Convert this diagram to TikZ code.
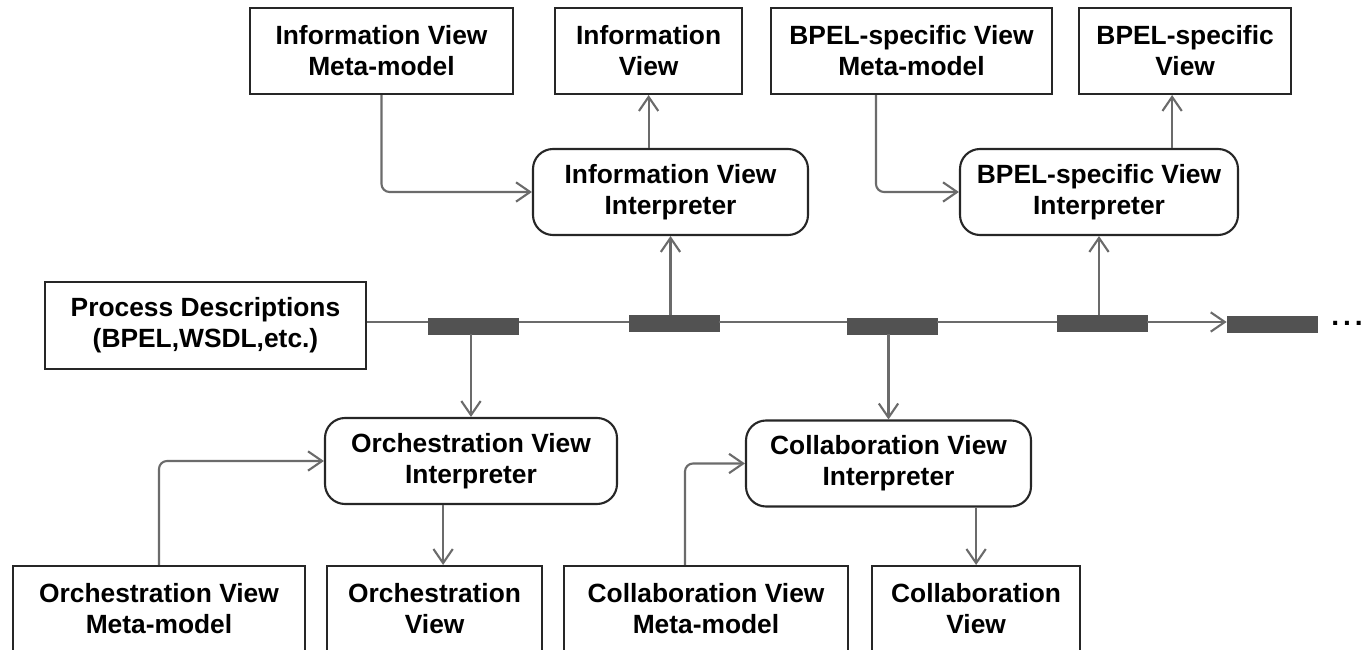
\documentclass[tikz,border=0pt]{standalone}
\usepackage{fontspec}
\setmainfont{Liberation Sans}
\usetikzlibrary{arrows.meta,positioning}

\begin{document}
\begin{tikzpicture}
        \tikzstyle{viewbox} = [rectangle, draw = black!85, line width = 1.2pt, align = center, font = \bfseries\fontsize{15}{17.6}\selectfont, minimum height = 1.72cm, inner sep = 0]
        \tikzstyle{interpreter} = [viewbox, rounded corners = 0.4cm]
        \tikzstyle{filter} = [rectangle, fill = black!68, draw = black!68, minimum width = 1.8cm, minimum height = 0.32cm, inner sep = 0]
        \tikzstyle{bus} = [draw = black!58, line width = 1.2pt]
        \tikzstyle{flow} = [bus, rounded corners = 0.16cm, -{Straight Barb[length = 8pt, width = 11pt]}]
        \useasboundingbox (0,0) rectangle (27.36,-13);
        \clip (0,0) rectangle (27.36,-13);
        \node at (4.11,-6.51) (procdesc) [viewbox, minimum width = 6.42cm, minimum height = 1.74cm] {Process Descriptions \\ (BPEL,WSDL,etc.)};
        \node at (7.63,-1.02) (infomm) [viewbox, minimum width = 5.26cm] {Information View \\ Meta-model};
        \node (infoview) [viewbox, minimum width = 3.74cm, right = 0.8cm of infomm] {Information \\ View};
        \node at (18.23,-1.02) (bpelmm) [viewbox, minimum width = 5.62cm] {BPEL-specific View \\ Meta-model};
        \node (bpelview) [viewbox, minimum width = 4.24cm, right = 0.5cm of bpelmm] {BPEL-specific \\ View};
        \node at (13.41,-3.84) (infointerp) [interpreter, minimum width = 5.5cm] {Information View \\ Interpreter};
        \node at (21.98,-3.84) (bpelinterp) [interpreter, minimum width = 5.56cm] {BPEL-specific View \\ Interpreter};
        \node at (9.42,-9.22) (orchinterp) [interpreter, minimum width = 5.84cm] {Orchestration View \\ Interpreter};
        \node at (17.77,-9.27) (collinterp) [interpreter, minimum width = 5.7cm] {Collaboration View \\ Interpreter};
        \node at (3.18,-12.18) (orchmm) [viewbox, minimum width = 5.84cm] {Orchestration View \\ Meta-model};
        \node (orchview) [viewbox, minimum width = 4.3cm, right = 0.4cm of orchmm] {Orchestration \\ View};
        \node at (14.12,-12.18) (collmm) [viewbox, minimum width = 5.68cm] {Collaboration View \\ Meta-model};
        \node (collview) [viewbox, minimum width = 4.16cm, right = 0.44cm of collmm] {Collaboration \\ View};
        % filters on the bus
        \coordinate (bus) at (0,-6.44);
        \node at (9.47,-6.52) (filter1) [filter] {};
        \node at (13.48,-6.47) (filter2) [filter] {};
        \node at (17.84,-6.52) (filter3) [filter] {};
        \node at (22.04,-6.47) (filter4) [filter] {};
        \node at (25.44,-6.48) (filter5) [filter] {};
        \node (more) [anchor = base west, inner sep = 0, font = \bfseries\fontsize{16}{18}\selectfont] at (26.62,-6.52) {.\kern0.08cm.\kern0.08cm.};
        \draw [bus] (procdesc.east |- bus) -- (filter1.west |- bus);
        \draw [bus] (filter1.east |- bus) -- (filter2.west |- bus);
        \draw [bus] (filter2.east |- bus) -- (filter3.west |- bus);
        \draw [bus] (filter3.east |- bus) -- (filter4.west |- bus);
        \draw [flow] (filter4.east |- bus) -- (filter5.west |- bus);
        \draw [flow] (filter1.south -| orchinterp.north) -- (orchinterp.north);
        \draw [flow] (filter2.north -| infointerp.south) -- (infointerp.south);
        \draw [flow] (filter3.south -| collinterp.north) -- (collinterp.north);
        \draw [flow] (filter4.north -| bpelinterp.south) -- (bpelinterp.south);
        % meta-models into interpreters
        \draw [flow] (infomm.south) |- (infointerp.west);
        \draw [flow] ([xshift = -0.71cm]bpelmm.south) |- (bpelinterp.west);
        \draw [flow] (orchmm.north) |- (orchinterp.west);
        \draw [flow] ([xshift = -0.42cm]collmm.north) |- (collinterp.west);
        % interpreters out to views
        \coordinate (bpelin) at ([xshift = -0.26cm]bpelview.south);
        \coordinate (orchin) at ([xshift = 0.17cm]orchview.north);
        \draw [flow] (infointerp.north -| infoview.south) -- (infoview.south);
        \draw [flow] (bpelinterp.north -| bpelin) -- (bpelin);
        \draw [flow] (orchinterp.south -| orchin) -- (orchin);
        \draw [flow] (collinterp.south -| collview.north) -- (collview.north);
    \end{tikzpicture}
\end{document}
